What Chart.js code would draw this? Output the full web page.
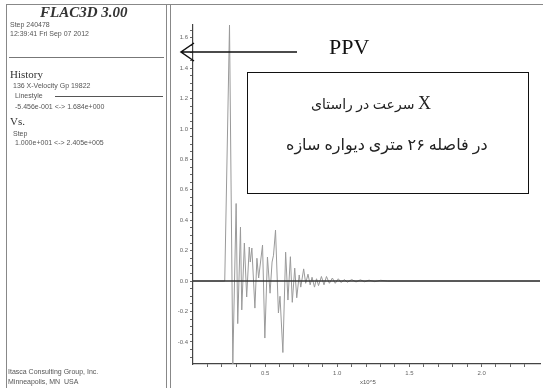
<!DOCTYPE html>
<html>
<head>
<meta charset="utf-8">
<script src="https://cdn.jsdelivr.net/npm/chart.js@4.4.1/dist/chart.umd.min.js"></script>
<style>
  html, body { margin: 0; padding: 0; background: #fff; }
  #wrap { position: relative; width: 543px; height: 388px; overflow: hidden; }
  #chart { position: absolute; left: 0; top: 0; }
  .t { position: absolute; white-space: nowrap; font-family: "Liberation Sans", Arial, sans-serif; font-size: 7px; color: #555; line-height: 1; }
  .serif { font-family: "Liberation Serif", "Times New Roman", serif; color: #333; }
  #panel { position: absolute; left: 6px; top: 4px; width: 159px; height: 390px; border: 1px solid #888; }
  #vline { position: absolute; left: 170px; top: 4px; width: 1px; height: 390px; background: #888; }
  #topline { position: absolute; left: 6px; top: 4px; width: 537px; height: 1px; background: #888; }
  .hl { position: absolute; height: 1px; background: #777; }
  #box { position: absolute; left: 247px; top: 72px; width: 280px; height: 120px; border: 1px solid #111; background: #fff; }
  .fa { position: absolute; white-space: nowrap; color: #222; line-height: 1;
        font-family: "Liberation Serif", "DejaVu Sans", serif; }
</style>
</head>
<body>
<div id="wrap">
  <canvas id="chart" width="543" height="388"></canvas>
  <div id="topline"></div>
  <div id="panel"></div>
  <div id="vline"></div>

  <div class="t serif" style="left:40px; top:5px; font-size:15px; font-weight:bold; font-style:italic;">FLAC3D 3.00</div>
  <div class="t" style="left:10px; top:21px;">Step 240478</div>
  <div class="t" style="left:10px; top:30px;">12:39:41 Fri Sep 07 2012</div>
  <div class="hl" style="left:9px; top:57px; width:155px;"></div>
  <div class="t serif" style="left:10px; top:69px; font-size:11px;">History</div>
  <div class="t" style="left:13px; top:82px;">136 X-Velocity Gp 19822</div>
  <div class="t" style="left:15px; top:92px;">Linestyle</div>
  <div class="hl" style="left:55px; top:96px; width:108px; background:#555;"></div>
  <div class="t" style="left:15px; top:103px;">-5.456e-001 &lt;-&gt; 1.684e+000</div>
  <div class="t serif" style="left:10px; top:116px; font-size:11px;">Vs.</div>
  <div class="t" style="left:13px; top:130px;">Step</div>
  <div class="t" style="left:15px; top:139px;">1.000e+001 &lt;-&gt; 2.405e+005</div>
  <div class="t" style="left:8px; top:368px;">Itasca Consulting Group, Inc.</div>
  <div class="t" style="left:8px; top:378px;">Minneapolis, MN&nbsp; USA</div>

  <div class="t" style="left:360px; top:379px; font-size:6px;">x10^5</div>

  <div class="t serif" style="left:329px; top:36px; font-size:22px; color:#111;">PPV</div>
  <div id="box">
    <div class="fa" id="fa1" style="top:21px; font-size:14px; direction:ltr;">سرعت در راستای <span style="font-size:18px;">X</span></div>
    <div class="fa" id="fa2" style="top:64px; font-size:16px; direction:rtl;">در فاصله ۲۶ متری دیواره سازه</div>
  </div>
</div>
<script>
// X-velocity history, time in units of 10^5 steps
const steps = [0, 0.22, 0.253, 0.276, 0.299, 0.31, 0.329, 0.338, 0.356, 0.372, 0.39, 0.397, 0.408,
  0.429, 0.443, 0.455, 0.482, 0.498, 0.516, 0.534, 0.548, 0.558, 0.572, 0.592, 0.603, 0.623,
  0.642, 0.658, 0.675, 0.688, 0.705, 0.719, 0.736, 0.747, 0.767, 0.781, 0.797, 0.812, 0.825,
  0.842, 0.856, 0.87, 0.89, 0.908, 0.925, 0.945, 0.966, 0.986, 1.007, 1.027, 1.048, 1.07,
  1.1, 1.13, 1.16, 1.19, 1.22, 1.26, 1.3, 1.35, 2.405];
const velocity = [0, 0, 1.684, -0.545, 0.51, -0.28, 0.355, -0.19, 0.25, -0.105, 0.224, 0.125, 0.217,
  -0.178, 0.15, 0.02, 0.237, -0.375, 0.158, -0.08, 0.125, 0.17, 0.335, -0.21, -0.1, -0.47,
  0.19, -0.125, 0.16, -0.14, 0.085, -0.11, 0.04, -0.04, 0.08, -0.015, 0.045, -0.025, 0.025,
  -0.04, 0.015, -0.03, 0.03, -0.025, 0.03, -0.015, 0.02, -0.015, 0.015, -0.01, 0.01, -0.008,
  0.01, -0.006, 0.008, -0.005, 0.006, -0.004, 0.005, 0, 0];

const yMin = -0.5456;
const yMax = 1.684;
const xMin = 0;
const xMax = 2.405;
const yTickLabels = [-0.4, -0.2, 0.0, 0.2, 0.4, 0.6, 0.8, 1.0, 1.2, 1.4, 1.6];
const xTickLabels = [0.5, 1.0, 1.5, 2.0];

// minor ticks
const yMinor = [];
for (let v = -0.5; v <= 1.66; v += 0.05) yMinor.push(Math.round(v * 100) / 100);
const xMinor = [];
for (let v = 0.1; v <= 2.4; v += 0.1) xMinor.push(Math.round(v * 10) / 10);

function isMajor(v, list) {
  return list.some((m) => Math.abs(m - v) < 1e-6);
}

// centre the two text lines of the box (line 1 sits a bit left of centre)
const fa1 = document.getElementById("fa1");
const fa2 = document.getElementById("fa2");
fa1.style.left = (123 - fa1.offsetWidth / 2) + "px";
fa2.style.left = (139 - fa2.offsetWidth / 2) + "px";

// PPV arrow
const arrowPlugin = {
  id: "ppvArrow",
  afterDraw(chart) {
    const ctx = chart.ctx;
    ctx.save();
    ctx.strokeStyle = "#111";
    ctx.lineWidth = 1.5;
    ctx.beginPath();
    ctx.moveTo(297, 52);
    ctx.lineTo(181, 52);
    ctx.moveTo(194, 43);
    ctx.lineTo(181, 52);
    ctx.lineTo(194, 61);
    ctx.stroke();
    ctx.restore();
  },
};

const tickFont = { family: "'Liberation Sans', Arial, sans-serif", size: 6 };

new Chart(document.getElementById("chart"), {
  type: "line",
  data: {
    datasets: [
      {
        data: [{ x: xMin, y: 0 }, { x: xMax, y: 0 }],
        borderColor: "#333",
        borderWidth: 1.5,
        pointRadius: 0,
        order: 0,
      },
      {
        data: steps.map((s, i) => ({ x: s, y: velocity[i] })),
        borderColor: "#9a9a9a",
        borderWidth: 1,
        pointRadius: 0,
        tension: 0,
        order: 1,
      },
    ],
  },
  options: {
    responsive: false,
    animation: false,
    layout: { padding: { left: 171, top: 25, right: 3, bottom: 0 } },
    plugins: { legend: { display: false }, tooltip: { enabled: false } },
    scales: {
      x: {
        type: "linear",
        min: xMin,
        max: xMax,
        afterBuildTicks: (scale) => {
          scale.ticks = xMinor.map((v) => ({ value: v }));
        },
        afterFit: (scale) => { scale.height = 24; },
        border: { color: "#444", width: 1.2 },
        grid: { drawOnChartArea: false, tickLength: 3, color: "#666" },
        ticks: {
          autoSkip: false,
          maxRotation: 0,
          padding: 3,
          color: "#666",
          font: tickFont,
          callback: (v) => (isMajor(v, xTickLabels) ? v.toFixed(1) : ""),
        },
      },
      y: {
        min: yMin,
        max: yMax,
        afterBuildTicks: (scale) => {
          scale.ticks = yMinor.map((v) => ({ value: v }));
        },
        afterFit: (scale) => { scale.width = 22; },
        border: { color: "#444", width: 1.2 },
        grid: { drawOnChartArea: false, tickLength: 3, color: "#666" },
        ticks: {
          autoSkip: false,
          padding: 2,
          color: "#666",
          font: tickFont,
          callback: (v) => (isMajor(v, yTickLabels) ? v.toFixed(1) : ""),
        },
      },
    },
  },
  plugins: [arrowPlugin],
});
</script>
</body>
</html>
